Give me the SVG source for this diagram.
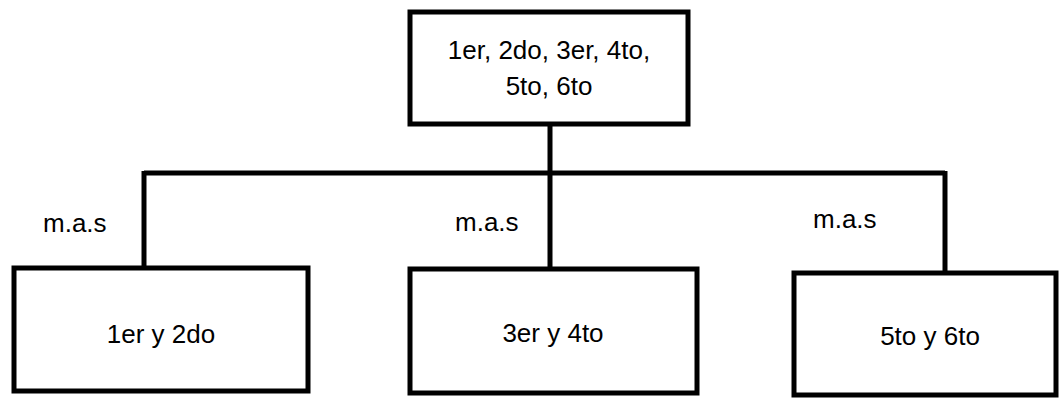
<svg xmlns="http://www.w3.org/2000/svg" width="1059" height="400" viewBox="0 0 1059 400">
<style>
.box{fill:#fff;stroke:#000;stroke-width:5}
.ln{fill:none;stroke:#000;stroke-width:5}
text{font-family:"Liberation Sans",Arial,sans-serif;font-size:26px;fill:#000}
.c{text-anchor:middle}
</style>
<rect width="1059" height="400" fill="#fff"/>
<g id="connectors">
<path class="ln" d="M550 124 V268"/>
<path class="ln" d="M144 173 H945"/>
<path class="ln" d="M144 171 V267"/>
<path class="ln" d="M945 171 V272"/>
<text x="43" y="232">m.a.s</text>
<text x="455" y="231">m.a.s</text>
<text x="813" y="228">m.a.s</text>
</g>
<g id="top">
<rect class="box" x="410" y="12" width="278" height="112"/>
<text class="c" x="549" y="59">1er, 2do, 3er, 4to,</text>
<text class="c" x="549" y="95">5to, 6to</text>
</g>
<g id="n1">
<rect class="box" x="14" y="268" width="294" height="123"/>
<text class="c" x="161" y="343">1er y 2do</text>
</g>
<g id="n2">
<rect class="box" x="410" y="269" width="287" height="124"/>
<text class="c" x="553" y="342">3er y 4to</text>
</g>
<g id="n3">
<rect class="box" x="794" y="273" width="262" height="122"/>
<text class="c" x="930" y="345">5to y 6to</text>
</g>
</svg>
